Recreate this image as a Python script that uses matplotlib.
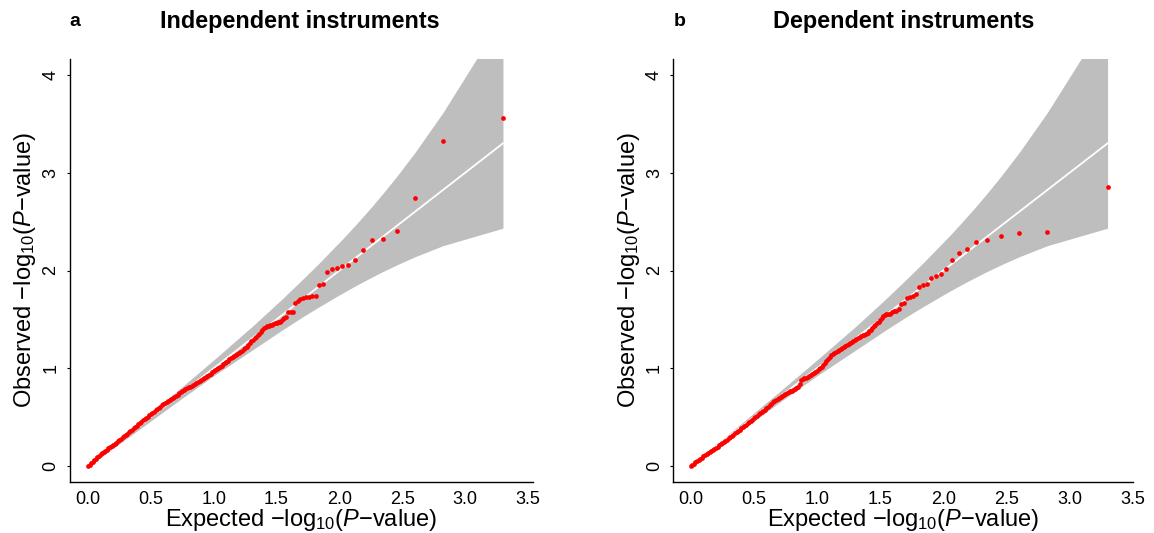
import matplotlib
matplotlib.use("Agg")
import matplotlib.pyplot as plt

plt.rcParams['font.family'] = ['Liberation Sans', 'DejaVu Sans']
plt.rcParams['mathtext.fontset'] = 'custom'
plt.rcParams['mathtext.rm'] = 'Liberation Sans'
plt.rcParams['mathtext.it'] = 'Liberation Sans:italic'
plt.rcParams['mathtext.bf'] = 'Liberation Sans:bold'

# ---------------- data ----------------
panel_letters = ['a', 'b']
panel_titles = ['Independent instruments', 'Dependent instruments']
x_ticks = [0.0, 0.5, 1.0, 1.5, 2.0, 2.5, 3.0, 3.5]
x_tick_labels = ['0.0', '0.5', '1.0', '1.5', '2.0', '2.5', '3.0', '3.5']
y_ticks = [0, 1, 2, 3, 4]
y_tick_labels = ['0', '1', '2', '3', '4']

# 95% band (expected -log10 P, lower, upper)
band_exp = [0.0, 0.097, 0.302, 0.70, 1.0, 1.309, 1.532, 1.710, 1.839, 2.022,
            2.071, 2.125, 2.187, 2.260, 2.347, 2.456, 2.602, 2.824, 3.301]
band_lower = [0.0, 0.084, 0.275, 0.648, 0.923, 1.188, 1.380, 1.528, 1.629, 1.767,
              1.802, 1.841, 1.884, 1.933, 1.990, 2.057, 2.141, 2.254, 2.433]
band_upper = [0.0, 0.111, 0.329, 0.757, 1.085, 1.431, 1.694, 1.913, 2.076, 2.319,
              2.386, 2.462, 2.551, 2.657, 2.790, 2.963, 3.209, 3.616, 4.597]

# reference line (expected = observed)
diag_exp = [0.0, 3.3]

# expected positions of the densely packed points (shared by both panels)
exp_dense = [
    0.0000, 0.0125, 0.0250, 0.0375, 0.0500, 0.0625, 0.0750, 0.0875, 0.1000, 0.1125,
    0.1250, 0.1375, 0.1500, 0.1625, 0.1750, 0.1875, 0.2000, 0.2125, 0.2250, 0.2375,
    0.2500, 0.2625, 0.2750, 0.2875, 0.3000, 0.3125, 0.3250, 0.3375, 0.3500, 0.3625,
    0.3750, 0.3875, 0.4000, 0.4125, 0.4250, 0.4375, 0.4500, 0.4625, 0.4750, 0.4875,
    0.5000, 0.5125, 0.5250, 0.5375, 0.5500, 0.5625, 0.5750, 0.5875, 0.6000, 0.6125,
    0.6250, 0.6375, 0.6500, 0.6625, 0.6750, 0.6875, 0.7000, 0.7125, 0.7250, 0.7375,
    0.7500, 0.7625, 0.7750, 0.7875, 0.8000, 0.8125, 0.8250, 0.8375, 0.8500, 0.8625,
    0.8750, 0.8875, 0.9000, 0.9125, 0.9250, 0.9375, 0.9500, 0.9625, 0.9750, 0.9875,
    1.0000, 1.0125, 1.0250, 1.0375, 1.0500, 1.0625, 1.0750, 1.0875, 1.1000, 1.1125,
    1.1250, 1.1375, 1.1500, 1.1625, 1.1750, 1.1875, 1.2000, 1.2125, 1.2250, 1.2375,
    1.2500, 1.2625, 1.2750, 1.2875, 1.3000, 1.3125, 1.3250, 1.3375, 1.3500, 1.3625,
    1.3750, 1.3875, 1.4000, 1.4125, 1.4250, 1.4375, 1.4500, 1.4625, 1.4750, 1.4875,
    1.5000, 1.5125, 1.5250, 1.5375, 1.5500, 1.5625, 1.5750]
# expected positions of the separated top points (shared by both panels)
exp_top = [1.594, 1.611, 1.629, 1.648, 1.668, 1.688, 1.710, 1.733, 1.757, 1.783,
           1.810, 1.839, 1.870, 1.903, 1.939, 1.979, 2.022, 2.071, 2.125, 2.187,
           2.260, 2.347, 2.456, 2.602, 2.824, 3.301]

# panel a: independent instruments
obs_a_dense = [
    0.000, 0.014, 0.028, 0.043, 0.058, 0.073, 0.088, 0.103, 0.118, 0.133,
    0.146, 0.157, 0.168, 0.179, 0.190, 0.203, 0.215, 0.228, 0.240, 0.253,
    0.266, 0.280, 0.293, 0.305, 0.318, 0.332, 0.345, 0.358, 0.372, 0.386,
    0.400, 0.414, 0.428, 0.442, 0.455, 0.467, 0.480, 0.493, 0.506, 0.519,
    0.532, 0.545, 0.557, 0.570, 0.583, 0.596, 0.608, 0.619, 0.630, 0.641,
    0.652, 0.663, 0.674, 0.686, 0.697, 0.709, 0.720, 0.731, 0.742, 0.753,
    0.764, 0.775, 0.785, 0.794, 0.803, 0.812, 0.822, 0.831, 0.840, 0.850,
    0.860, 0.870, 0.880, 0.891, 0.902, 0.913, 0.924, 0.935, 0.946, 0.957,
    0.968, 0.979, 0.990, 1.002, 1.014, 1.027, 1.040, 1.052, 1.064, 1.077,
    1.090, 1.102, 1.114, 1.125, 1.136, 1.148, 1.160, 1.170, 1.180, 1.192,
    1.205, 1.222, 1.240, 1.258, 1.275, 1.292, 1.310, 1.324, 1.338, 1.354,
    1.370, 1.391, 1.412, 1.421, 1.430, 1.436, 1.442, 1.447, 1.452, 1.458,
    1.465, 1.470, 1.476, 1.488, 1.500, 1.512, 1.525]
obs_a_top = [1.579, 1.580, 1.580, 1.668, 1.690, 1.712, 1.722, 1.728, 1.732, 1.736,
             1.742, 1.850, 1.860, 1.985, 2.015, 2.029, 2.046, 2.053, 2.107, 2.206,
             2.312, 2.320, 2.400, 2.745, 3.320, 3.560]

# panel b: dependent instruments
obs_b_dense = [
    0.000, 0.013, 0.025, 0.038, 0.050, 0.062, 0.073, 0.085, 0.097, 0.109,
    0.120, 0.132, 0.143, 0.155, 0.166, 0.177, 0.188, 0.199, 0.210, 0.222,
    0.234, 0.246, 0.258, 0.270, 0.282, 0.295, 0.308, 0.321, 0.334, 0.347,
    0.360, 0.373, 0.386, 0.398, 0.410, 0.423, 0.436, 0.449, 0.462, 0.475,
    0.488, 0.501, 0.514, 0.527, 0.540, 0.553, 0.565, 0.577, 0.590, 0.605,
    0.620, 0.635, 0.650, 0.665, 0.680, 0.690, 0.700, 0.709, 0.718, 0.728,
    0.738, 0.747, 0.755, 0.764, 0.772, 0.781, 0.790, 0.800, 0.810, 0.835,
    0.875, 0.885, 0.895, 0.902, 0.910, 0.920, 0.930, 0.941, 0.952, 0.964,
    0.976, 0.988, 1.000, 1.017, 1.035, 1.055, 1.075, 1.095, 1.115, 1.133,
    1.150, 1.160, 1.170, 1.180, 1.190, 1.200, 1.210, 1.220, 1.230, 1.239,
    1.248, 1.256, 1.265, 1.275, 1.285, 1.295, 1.305, 1.315, 1.325, 1.335,
    1.345, 1.355, 1.365, 1.380, 1.395, 1.412, 1.430, 1.445, 1.460, 1.475,
    1.490, 1.510, 1.530, 1.542, 1.553, 1.556, 1.560]
obs_b_top = [1.575, 1.585, 1.590, 1.606, 1.660, 1.664, 1.715, 1.730, 1.739, 1.763,
             1.834, 1.849, 1.862, 1.920, 1.940, 1.964, 2.019, 2.107, 2.180, 2.220,
             2.295, 2.309, 2.356, 2.387, 2.397, 2.857]

panel_obs = [(obs_a_dense, obs_a_top), (obs_b_dense, obs_b_top)]

# ---------------- figure ----------------
W, H = 1154, 533
fig = plt.figure(figsize=(W / 100, H / 100), dpi=100)

axes_px = [(70, 59, 533, 482), (673.3, 59, 1132.7, 482)]
xlims = [(-0.143, 3.54), (-0.138, 3.50)]
ylim = (-0.164, 4.164)
letter_x = [75, 680]
title_x = [160, 773]

xlabel = 'Expected \u2212log$_{10}$($\\mathit{P}$\u2212value)'
ylabel = 'Observed \u2212log$_{10}$($\\mathit{P}$\u2212value)'

for k in range(2):
    x0, y0, x1, y1 = axes_px[k]
    ax = fig.add_axes([x0 / W, 1 - y1 / H, (x1 - x0) / W, (y1 - y0) / H])
    ax.fill_between(band_exp, band_lower, band_upper, color='#bebebe',
                    linewidth=0, zorder=1)
    ax.plot(diag_exp, diag_exp, color='white', linewidth=1.3, zorder=2)
    dense, top = panel_obs[k]
    ax.plot(exp_dense, dense, 'o', color='#ff0000', ms=3.4, mec='none', zorder=3)
    ax.plot(exp_top, top, 'o', color='#ff0000', ms=3.4, mec='none', zorder=3)
    ax.set_xlim(*xlims[k])
    ax.set_ylim(*ylim)
    ax.set_xticks(x_ticks)
    ax.set_xticklabels(x_tick_labels, fontsize=13)
    ax.set_yticks(y_ticks)
    ax.set_yticklabels(y_tick_labels, fontsize=13, rotation=90, va='center')
    ax.tick_params(axis='x', length=0, pad=6.5, colors='black')
    ax.tick_params(axis='y', length=2.5, width=0.8, pad=5, colors='black')
    for s in ['top', 'right']:
        ax.spines[s].set_visible(False)
    for s in ['left', 'bottom']:
        ax.spines[s].set_linewidth(1.0)
    ax.set_xlabel(xlabel, fontsize=17, va='baseline')
    ax.xaxis.set_label_coords(0.5, (482 - 526) / (y1 - y0))
    ax.set_ylabel(ylabel, fontsize=17, labelpad=3)
    fig.text(letter_x[k] / W, 1 - 26 / H, panel_letters[k], fontsize=14,
             fontweight='bold', ha='center', va='baseline')
    fig.text(title_x[k] / W, 1 - 28.3 / H, panel_titles[k], fontsize=16.8,
             fontweight='bold', ha='left', va='baseline')

fig.savefig('out.png', dpi=100)
